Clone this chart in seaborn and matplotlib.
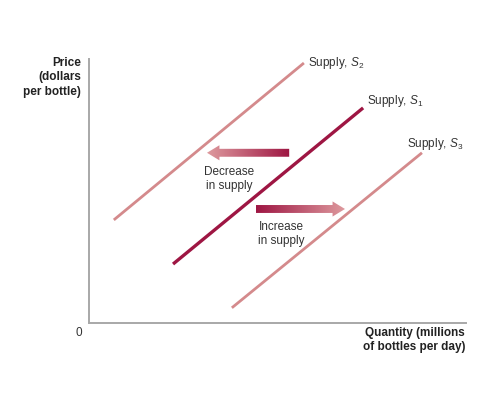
import numpy as np
import pandas as pd
import seaborn as sns
import matplotlib.pyplot as plt
from matplotlib.patches import FancyArrow
from matplotlib.colors import LinearSegmentedColormap

# supply curves (quantity, price) in chart units
s1_q = [22.3, 72.7]
s1_p = [15.6, 57.0]
s2_q = [6.6, 57.0]
s2_p = [27.3, 68.9]
s3_q = [37.9, 88.3]
s3_p = [4.0, 45.1]

curve_names = ["Supply, $S_1$", "Supply, $S_2$", "Supply, $S_3$"]

# shift arrows: start x, end x, y
decrease_arrow = [53.1, 31.3, 45.1]
increase_arrow = [44.3, 67.9, 30.2]

dark = "#9e1643"
light = "#d48a8c"

df = pd.DataFrame({
    "q": s1_q + s2_q + s3_q,
    "p": s1_p + s2_p + s3_p,
    "curve": [curve_names[0]] * 2 + [curve_names[1]] * 2 + [curve_names[2]] * 2,
})

sns.set_style("white")
plt.rcParams["font.family"] = ["Liberation Sans", "DejaVu Sans"]
plt.rcParams["mathtext.fontset"] = "custom"
plt.rcParams["mathtext.rm"] = "Liberation Sans"
plt.rcParams["mathtext.it"] = "Liberation Sans:italic"

fig = plt.figure(figsize=(4.86, 4.10), dpi=100)
ax = fig.add_axes([0.183, 0.210, 0.776, 0.644])

sns.lineplot(data=df, x="q", y="p", hue="curve",
             palette={curve_names[0]: dark, curve_names[1]: light, curve_names[2]: light},
             legend=False, ax=ax)
for ln in ax.get_lines():
    ln.set_solid_capstyle("butt")
ax.get_lines()[0].set_linewidth(2.4)
ax.get_lines()[1].set_linewidth(2.0)
ax.get_lines()[2].set_linewidth(2.0)

ax.set_xlim(0, 100)
ax.set_ylim(0, 70)

# gradient arrows (dark at tail, light at head)
cmap = LinearSegmentedColormap.from_list("arr", [dark, "#de9a9e"])
for x0, x1, y in [decrease_arrow, increase_arrow]:
    arr = FancyArrow(x0, y, x1 - x0, 0, width=2.1, head_width=4.0,
                     head_length=3.3, length_includes_head=True,
                     facecolor="none", edgecolor="none")
    ax.add_patch(arr)
    grad = np.linspace(0, 1, 200).reshape(1, -1)
    if x1 < x0:
        grad = grad[:, ::-1]
    im = ax.imshow(grad, cmap=cmap, aspect="auto",
                   extent=[min(x0, x1), max(x0, x1), y - 3, y + 3],
                   zorder=3)
    im.set_clip_path(arr)
ax.set_xlim(0, 100)
ax.set_ylim(0, 70)

lab = dict(fontsize=8.5, color="#333333")
ax.text(58.0, 69.2, "Supply, $S_{\\mathrm{2}}$", va="center", ha="left", **lab)
ax.text(73.7, 59.0, "Supply, $S_{\\mathrm{1}}$", va="center", ha="left", **lab)
ax.text(84.4, 47.8, "Supply, $S_{\\mathrm{3}}$", va="center", ha="left", **lab)
ax.text(37.2, 38.5, "Decrease\nin supply", ha="center", va="center",
        linespacing=1.2, **lab)
ax.text(51.0, 23.8, "Increase\nin supply", ha="center", va="center",
        linespacing=1.2, **lab)

for side in ["top", "right"]:
    ax.spines[side].set_visible(False)
for side in ["left", "bottom"]:
    ax.spines[side].set_color("#a8a8a8")
    ax.spines[side].set_linewidth(1.4)
ax.set_xticks([])
ax.set_yticks([])
ax.set_xlabel("")
ax.set_ylabel("")

fig.text(81 / 486, 1 - 57 / 410, "Price\n(dollars\nper bottle)", ha="right", va="top",
         fontsize=8.5, fontweight="bold", color="#222222", linespacing=1.25)
fig.text(79 / 486, 1 - 333 / 410, "0", ha="center", va="center",
         fontsize=8.5, color="#333333")
fig.text(465 / 486, 1 - 327 / 410, "Quantity (millions\nof bottles per day)",
         ha="right", va="top", fontsize=8.5, fontweight="bold",
         color="#222222", linespacing=1.25)

fig.savefig("out.png", dpi=100, facecolor="white")
